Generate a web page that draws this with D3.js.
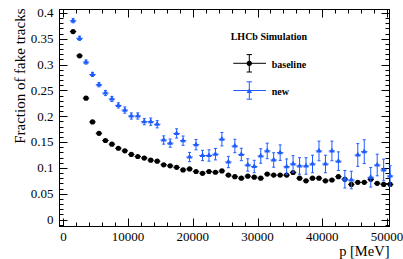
<!DOCTYPE html>
<html><head><meta charset="utf-8">
<script src="https://cdn.jsdelivr.net/npm/d3@7"></script>
<style>
html,body{margin:0;padding:0;background:#fff;}
svg{display:block;font-family:"Liberation Serif","Times New Roman",serif;}
</style></head>
<body><svg id="c" width="403" height="259"></svg>
<script>
// ---- data ----
const pCenters = [1500,2500,3500,4500,5500,6500,7500,8500,9500,10500,11500,12500,13500,14500,15500,16500,17500,18500,19500,20500,21500,22500,23500,24500,25500,26500,27500,28500,29500,30500,31500,32500,33500,34500,35500,36500,37500,38500,39500,40500,41500,42500,43500,44500,45500,46500,47500,48500,49500,50500];
const baselineVals = [0.364,0.317,0.235,0.189,0.167,0.153,0.146,0.138,0.133,0.126,0.122,0.119,0.115,0.113,0.106,0.104,0.101,0.096,0.098,0.093,0.0895,0.093,0.0915,0.094,0.086,0.083,0.080,0.084,0.082,0.080,0.088,0.086,0.086,0.086,0.091,0.080,0.075,0.080,0.080,0.075,0.0765,0.083,0.078,0.068,0.072,0.072,0.078,0.070,0.068,0.068];
const baselineErr = [0.002,0.002,0.002,0.002,0.002,0.002,0.002,0.002,0.002,0.002,0.002,0.002,0.002,0.002,0.002,0.002,0.002,0.002,0.002,0.002,0.003,0.003,0.003,0.003,0.003,0.003,0.003,0.003,0.003,0.003,0.003,0.003,0.003,0.003,0.003,0.004,0.004,0.004,0.004,0.004,0.004,0.004,0.004,0.004,0.004,0.004,0.004,0.004,0.004,0.004];
const newVals = [0.385,0.351,0.305,0.281,0.261,0.245,0.2335,0.221,0.212,0.2005,0.2005,0.1895,0.1895,0.1845,0.154,0.148,0.1667,0.1527,0.121,0.145,0.124,0.124,0.1265,0.1556,0.1114,0.1424,0.126,0.1056,0.1027,0.123,0.1328,0.1153,0.1295,0.1023,0.1076,0.1037,0.1037,0.1076,0.1328,0.1076,0.1328,0.113,0.078,0.0765,0.125,0.1314,0.0818,0.1056,0.096,0.0843];
const newErr = [0.004,0.004,0.004,0.004,0.004,0.005,0.005,0.005,0.006,0.006,0.006,0.006,0.007,0.007,0.008,0.008,0.009,0.009,0.009,0.010,0.010,0.011,0.011,0.013,0.011,0.013,0.012,0.012,0.012,0.014,0.015,0.014,0.015,0.015,0.016,0.016,0.016,0.017,0.019,0.017,0.019,0.018,0.017,0.017,0.022,0.023,0.019,0.021,0.021,0.020];
const binHalf = 500;
const xTickVals = [0,10000,20000,30000,40000,50000];
const xTickLabels = ["0","10000","20000","30000","40000","50000"];
const yTickVals = [0,0.05,0.1,0.15,0.2,0.25,0.3,0.35,0.4];
const yTickLabels = ["0","0.05","0.1","0.15","0.2","0.25","0.3","0.35","0.4"];
const legendLabels = ["baseline","new"];
const legendTitle = "LHCb Simulation";
const xTitle = "p [MeV]";
const yTitle = "Fraction of fake tracks";

const BLUE = "#1f5cff";
const svg = d3.select("#c");
const L=59.5, R=389.5, T=9.5, B=226.5;
const x = d3.scaleLinear().domain([-600,50400]).range([L,R]);
const y = d3.scaleLinear().domain([-0.01356,0.4068]).range([B,T]);

// frame
svg.append("rect").attr("x",L).attr("y",T).attr("width",R-L).attr("height",B-T)
  .attr("fill","none").attr("stroke","#000").attr("stroke-width",1);

// ticks
const xMinor = d3.range(0, 50401, 2000);
const yMinor = d3.range(-0.01, 0.4061, 0.01);
const tg = svg.append("g").attr("stroke","#000").attr("stroke-width",1);
xMinor.forEach(v=>{
  const major = Math.abs(v%10000)<1;
  const len = major?8:4;
  const px = Math.round(x(v))+0.5;
  tg.append("line").attr("x1",px).attr("x2",px).attr("y1",B).attr("y2",B-len);
  tg.append("line").attr("x1",px).attr("x2",px).attr("y1",T).attr("y2",T+len);
});
yMinor.forEach(v=>{
  const k = Math.round(v*100);
  const major = (k%5===0);
  const len = major?8:4;
  const py = Math.round(y(v))+0.5;
  tg.append("line").attr("x1",L).attr("x2",L+len).attr("y1",py).attr("y2",py);
  tg.append("line").attr("x1",R).attr("x2",R-len).attr("y1",py).attr("y2",py);
});

// tick labels
xTickVals.forEach((v,i)=>{
  svg.append("text").attr("x",x(v)).attr("y",241).attr("text-anchor","middle")
    .attr("font-size",13).text(xTickLabels[i]);
});
yTickVals.forEach((v,i)=>{
  svg.append("text").attr("x",53.5).attr("y",y(v)+4.4).attr("text-anchor","end")
    .attr("font-size",13).text(yTickLabels[i]);
});

// axis titles
svg.append("text").attr("x",389.5).attr("y",256).attr("text-anchor","end")
  .attr("font-size",14.5).text(xTitle);
svg.append("text").attr("transform","translate(24.5,8.5) rotate(-90)")
  .attr("text-anchor","end").attr("font-size",15).text(yTitle);

// data: baseline
const gb = svg.append("g");
pCenters.forEach((p,i)=>{
  const cx=x(p), cy=y(baselineVals[i]);
  gb.append("line").attr("x1",x(p-binHalf)).attr("x2",x(p+binHalf)).attr("y1",cy).attr("y2",cy)
    .attr("stroke","#000").attr("stroke-width",1);
  gb.append("line").attr("x1",cx).attr("x2",cx).attr("y1",y(baselineVals[i]-baselineErr[i])).attr("y2",y(baselineVals[i]+baselineErr[i]))
    .attr("stroke","#000").attr("stroke-width",1);
  gb.append("circle").attr("cx",cx).attr("cy",cy).attr("r",2.6).attr("fill","#000");
});
// data: new
const gn = svg.append("g");
const tri = d3.symbol().type(d3.symbolTriangle).size(13);
pCenters.forEach((p,i)=>{
  const cx=x(p), cy=y(newVals[i]);
  const y1=y(newVals[i]-newErr[i]), y2=y(newVals[i]+newErr[i]);
  gn.append("line").attr("x1",x(p-binHalf)).attr("x2",x(p+binHalf)).attr("y1",cy).attr("y2",cy)
    .attr("stroke",BLUE).attr("stroke-width",1);
  gn.append("line").attr("x1",cx).attr("x2",cx).attr("y1",y1).attr("y2",y2)
    .attr("stroke",BLUE).attr("stroke-width",1);
  [y1,y2].forEach(yy=>gn.append("line").attr("x1",cx-1.5).attr("x2",cx+1.5).attr("y1",yy).attr("y2",yy)
    .attr("stroke",BLUE).attr("stroke-width",1));
  gn.append("path").attr("d",tri).attr("transform",`translate(${cx},${cy})`).attr("fill",BLUE);
});

// legend
svg.append("text").attr("x",230.7).attr("y",39.5).attr("font-size",10).attr("font-weight","bold").text(legendTitle);
const legY=[63.3,90.5], legCols=["#000",BLUE];
legY.forEach((ly,i)=>{
  const c=legCols[i];
  const g=svg.append("g").attr("stroke",c).attr("stroke-width",1);
  g.append("line").attr("x1",233.3).attr("x2",266).attr("y1",ly).attr("y2",ly);
  g.append("line").attr("x1",249.3).attr("x2",249.3).attr("y1",ly-8.7).attr("y2",ly+8.7);
  g.append("line").attr("x1",246.6).attr("x2",252).attr("y1",ly-8.7).attr("y2",ly-8.7);
  g.append("line").attr("x1",246.6).attr("x2",252).attr("y1",ly+8.7).attr("y2",ly+8.7);
  if(i===0) svg.append("circle").attr("cx",249.3).attr("cy",ly).attr("r",2.6).attr("fill",c);
  else svg.append("path").attr("d",tri).attr("transform",`translate(249.3,${ly+1})`).attr("fill",c);
  svg.append("text").attr("x",271.7).attr("y",ly+4.2).attr("font-size",10).attr("font-weight","bold").text(legendLabels[i]);
});
</script></body></html>
